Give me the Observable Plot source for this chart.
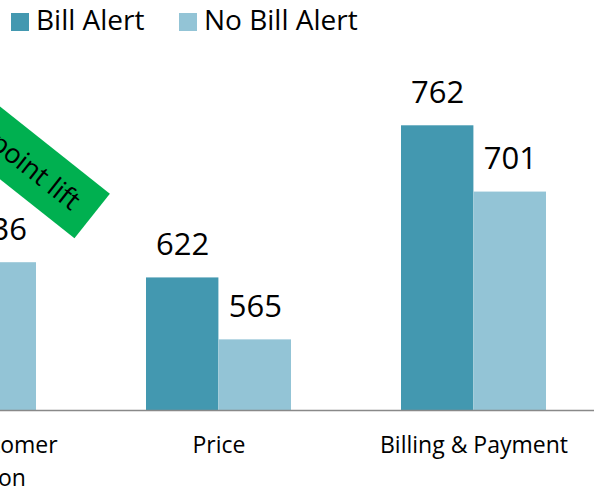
<!DOCTYPE html>
<html><head><meta charset="utf-8">
<script src="https://cdn.jsdelivr.net/npm/d3@7"></script>
<script src="https://cdn.jsdelivr.net/npm/@observablehq/plot@0.6"></script>
<style>
html,body{margin:0;padding:0;background:#fff;overflow:hidden;width:594px;height:488px;font-family:"Open Sans",sans-serif;}
#wrap{position:relative;width:594px;height:488px;overflow:hidden;}
#legend{position:absolute;left:0;top:0;width:594px;height:44px;}
.item{position:absolute;top:0;height:44px;}
.sw{position:absolute;left:0;top:13px;width:18px;height:18px;}
.lab{position:absolute;left:25px;top:5px;font-size:28px;line-height:28px;white-space:nowrap;color:#000;}
#chart{position:absolute;left:-158px;top:44px;}
#banner{position:absolute;left:-69.8px;top:131.4px;width:182px;height:56.5px;background:#00b050;transform:rotate(38.4deg);transform-origin:50% 50%;color:#000;font-size:27px;line-height:56.5px;text-align:center;white-space:nowrap;}
</style></head>
<body>
<div id="wrap">
  <div id="legend"></div>
  <div id="chart"></div>
  <div id="banner"></div>
</div>
<script>
// ---- data ----
const categories = ["Overall Customer\nSatisfaction", "Price", "Billing & Payment"];
const series = ["Bill Alert", "No Bill Alert"];
const billAlert = [686, 622, 762];
const noBillAlert = [636, 565, 701];
const colors = ["#4398b0", "#93c4d6"];
const bannerText = "50 point lift";

// ---- layout ----
const W = 752, H = 444;
const pi = 110 / 255, po = 48 / 255;
const step = W / (categories.length - pi + 2 * po);
const bw = step * (1 - pi);
const axisFont = 23, lh = 1.44;

const rows = (vals, s) => categories.map((c, i) => ({cat: c, series: s, value: vals[i]}));
const billRows = rows(billAlert, series[0]);
const noRows = rows(noBillAlert, series[1]);

const chart = Plot.plot({
  width: W, height: H,
  marginLeft: 0, marginRight: 0, marginTop: 40, marginBottom: 78,
  style: {fontFamily: "Open Sans", background: "transparent"},
  x: {domain: categories, paddingInner: pi, paddingOuter: po, axis: null},
  y: {domain: [500, 800], axis: null},
  color: {domain: series, range: colors},
  marks: [
    Plot.barY(billRows, {x: "cat", y1: 500, y2: "value", fill: "series", insetRight: bw / 2}),
    Plot.barY(noRows, {x: "cat", y1: 500, y2: "value", fill: "series", insetLeft: bw / 2}),
    Plot.ruleY([500], {stroke: "#898989", strokeWidth: 1.5}),
    Plot.text(billRows, {x: "cat", y: "value", text: d => String(d.value), dx: -bw / 4, dy: -23, lineAnchor: "bottom", fontSize: 31, fill: "#000"}),
    Plot.text(noRows, {x: "cat", y: "value", text: d => String(d.value), dx: bw / 4, dy: -23, lineAnchor: "bottom", fontSize: 31, fill: "#000"}),
    Plot.text(categories, {x: d => d, y: d => 500, text: d => d, lineAnchor: "top", lineHeight: lh, dy: 42.7 - 0.71 * lh * axisFont, fontSize: axisFont, fill: "#000"})
  ]
});
document.getElementById("chart").appendChild(chart);

// legend
const legend = document.getElementById("legend");
const lefts = [11, 179];
series.forEach((s, i) => {
  const it = document.createElement("div");
  it.className = "item";
  it.style.left = lefts[i] + "px";
  it.innerHTML = `<div class="sw" style="background:${colors[i]}"></div><div class="lab">${s}</div>`;
  legend.appendChild(it);
});
document.getElementById("banner").textContent = bannerText;
</script>
</body></html>
